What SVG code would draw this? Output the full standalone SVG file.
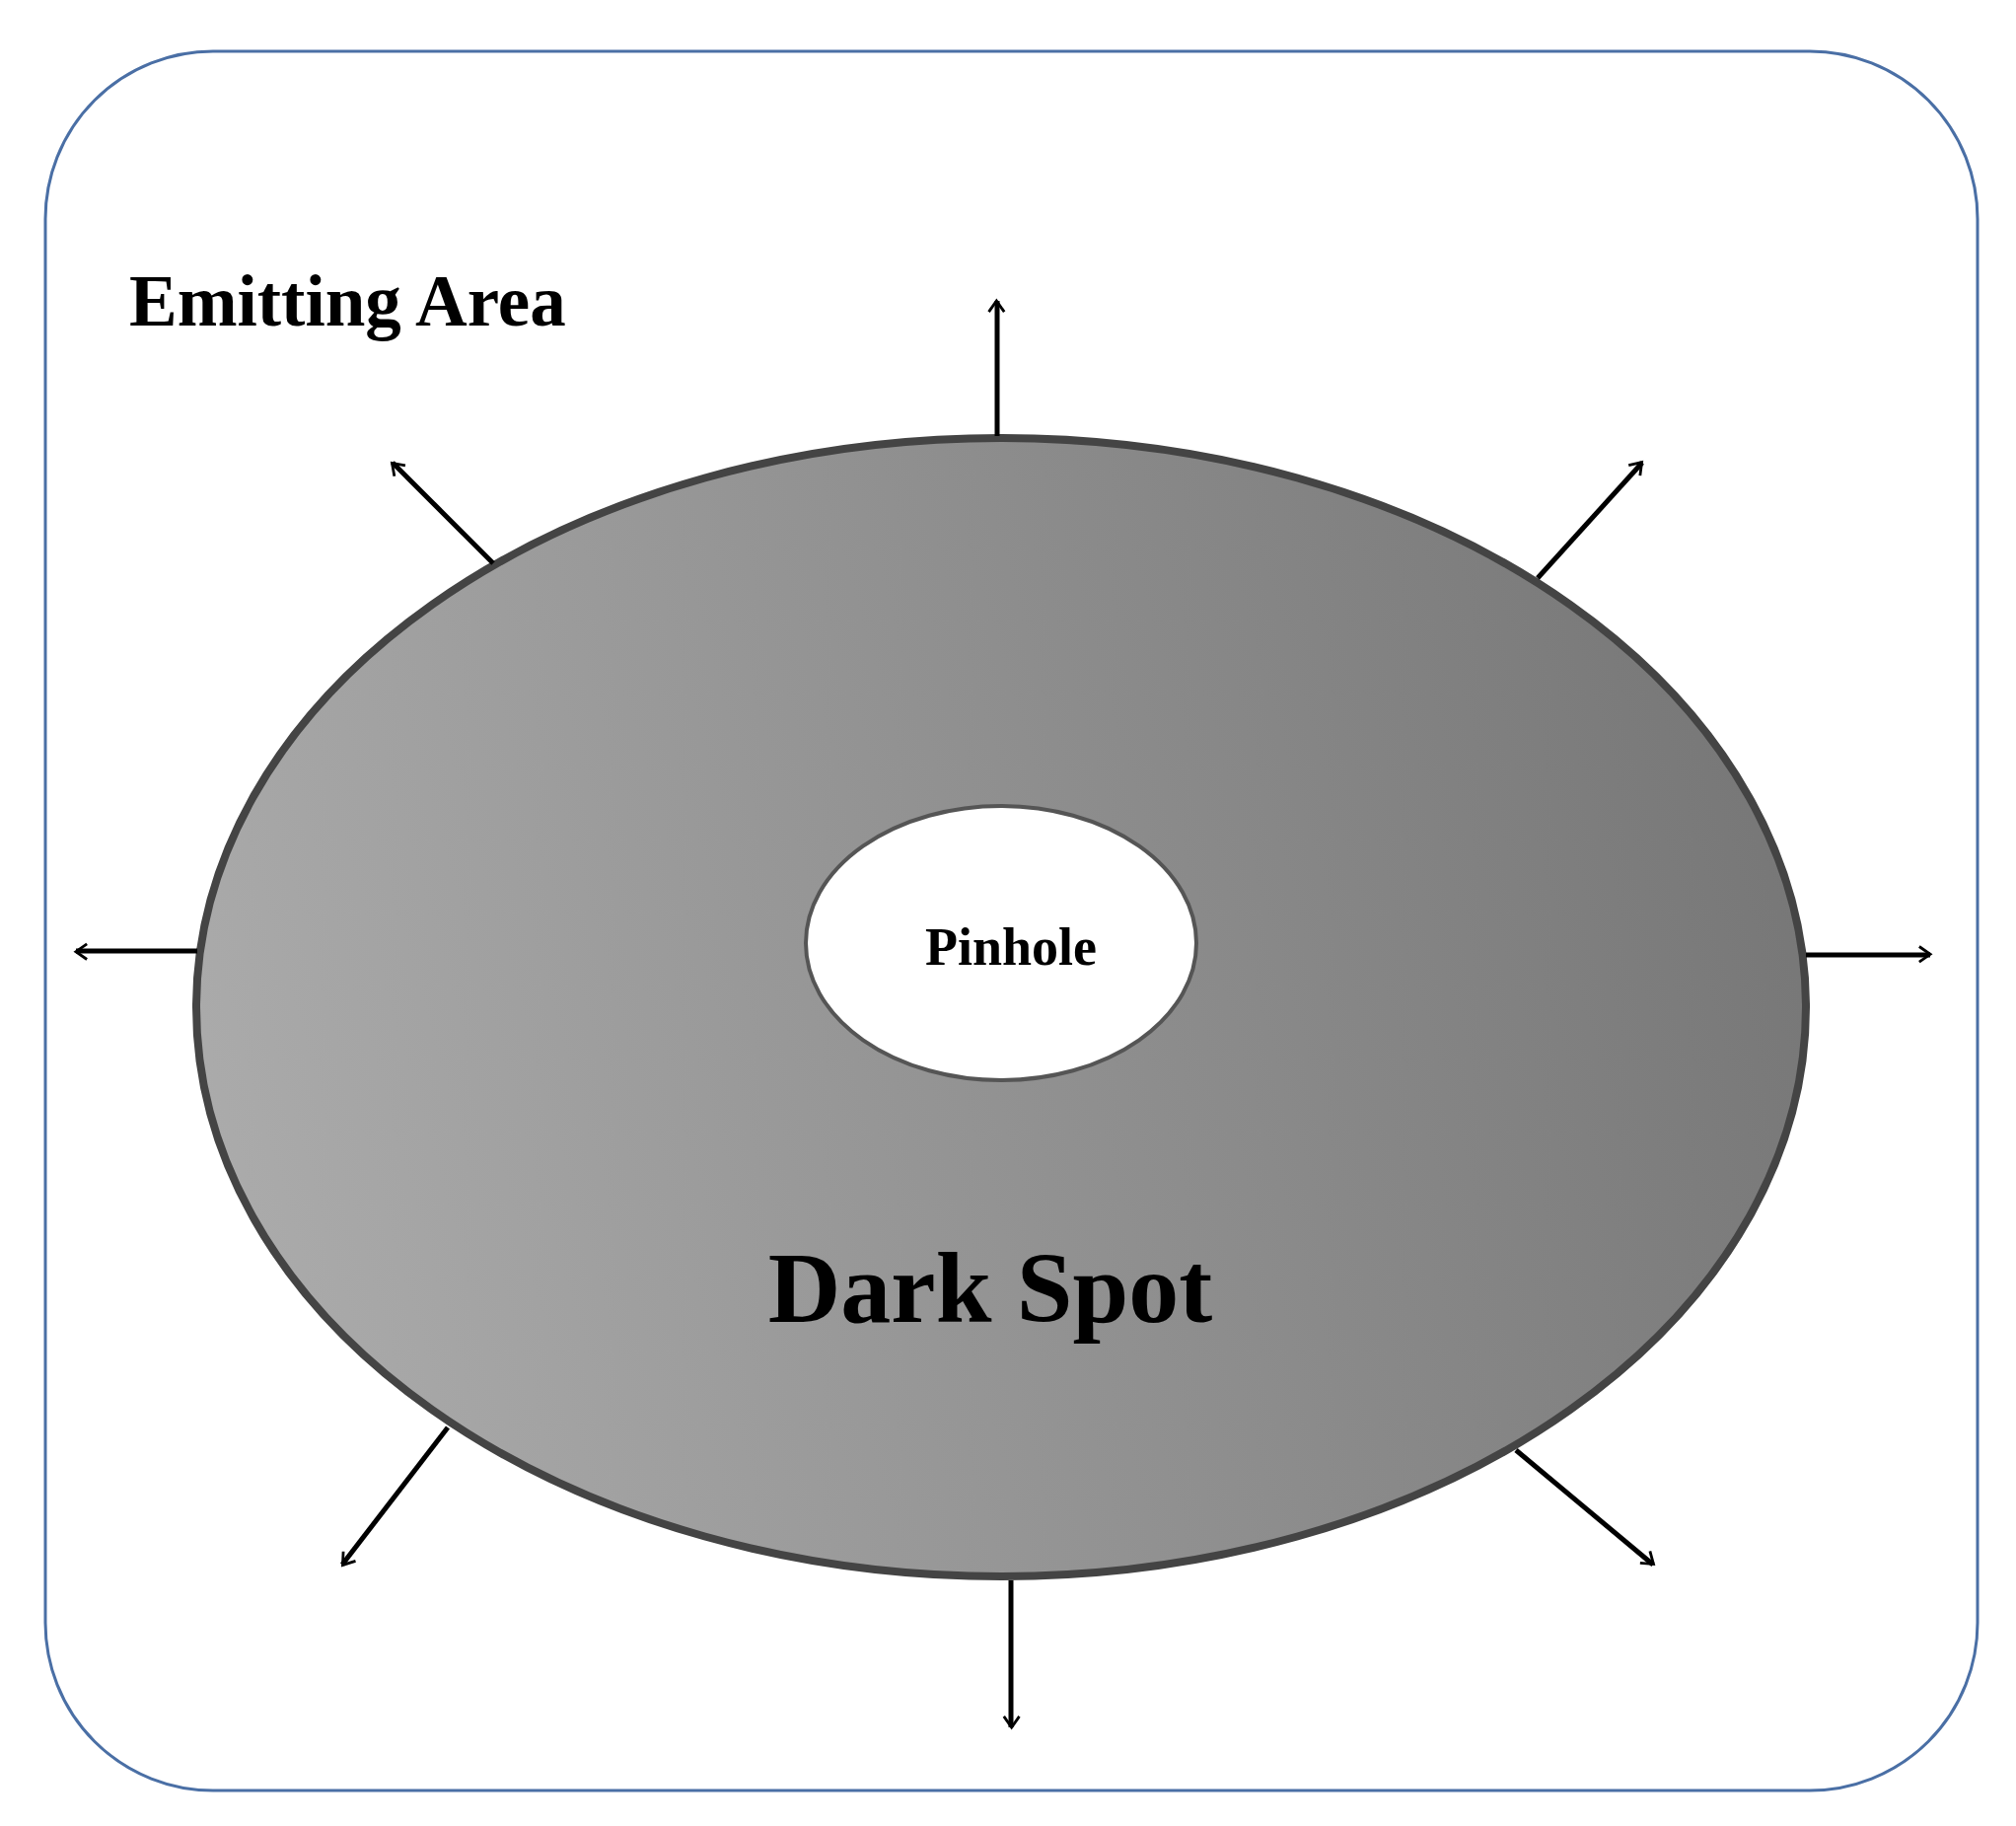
<svg xmlns="http://www.w3.org/2000/svg" width="2044" height="1851" viewBox="0 0 2044 1851">
<defs>
<linearGradient id="g" x1="0" y1="0.6" x2="1" y2="0.4"><stop offset="0" stop-color="#ababab"/><stop offset="1" stop-color="#777"/></linearGradient>
<marker id="ah" viewBox="0 0 20 20" refX="18" refY="10" markerWidth="8" markerHeight="8" markerUnits="userSpaceOnUse" orient="auto" overflow="visible"><path d="M-2,-4 L18,10 L-2,24" fill="none" stroke="#000" stroke-width="5" transform="scale(1.4) translate(-5,-4)"/></marker>
</defs>
<style>
.t{font-family:"Liberation Serif",serif;font-weight:bold;fill:#000}
.c line{stroke:#000;stroke-width:5;marker-end:url(#ah)}
</style>
<rect width="2044" height="1851" fill="#fff"/>
<rect x="46" y="52" width="1959" height="1763" rx="170" fill="none" stroke="#4a6fa5" stroke-width="3"/>
<text class="t" x="131" y="330" font-size="73">Emitting Area</text>
<g id="darkspot">
<ellipse cx="1015" cy="1021" rx="816" ry="577" fill="url(#g)" stroke="#444" stroke-width="8"/>
<text class="t" x="1004" y="1340" font-size="102" text-anchor="middle">Dark Spot</text>
</g>
<g id="pinhole">
<ellipse cx="1015" cy="956" rx="198" ry="139" fill="#fff" stroke="#555" stroke-width="4"/>
<text class="t" x="1025" y="978" font-size="54" text-anchor="middle">Pinhole</text>
</g>
<g class="c" id="connectors">
<line x1="1011" y1="442" x2="1011" y2="305"/>
<line x1="500" y1="571" x2="398" y2="469"/>
<line x1="1559" y1="586" x2="1665" y2="469"/>
<line x1="200" y1="964" x2="77" y2="964"/>
<line x1="1831" y1="968" x2="1957" y2="968"/>
<line x1="454" y1="1447" x2="347" y2="1586"/>
<line x1="1537" y1="1470" x2="1676" y2="1586"/>
<line x1="1025" y1="1602" x2="1025" y2="1751"/>
</g>
</svg>
